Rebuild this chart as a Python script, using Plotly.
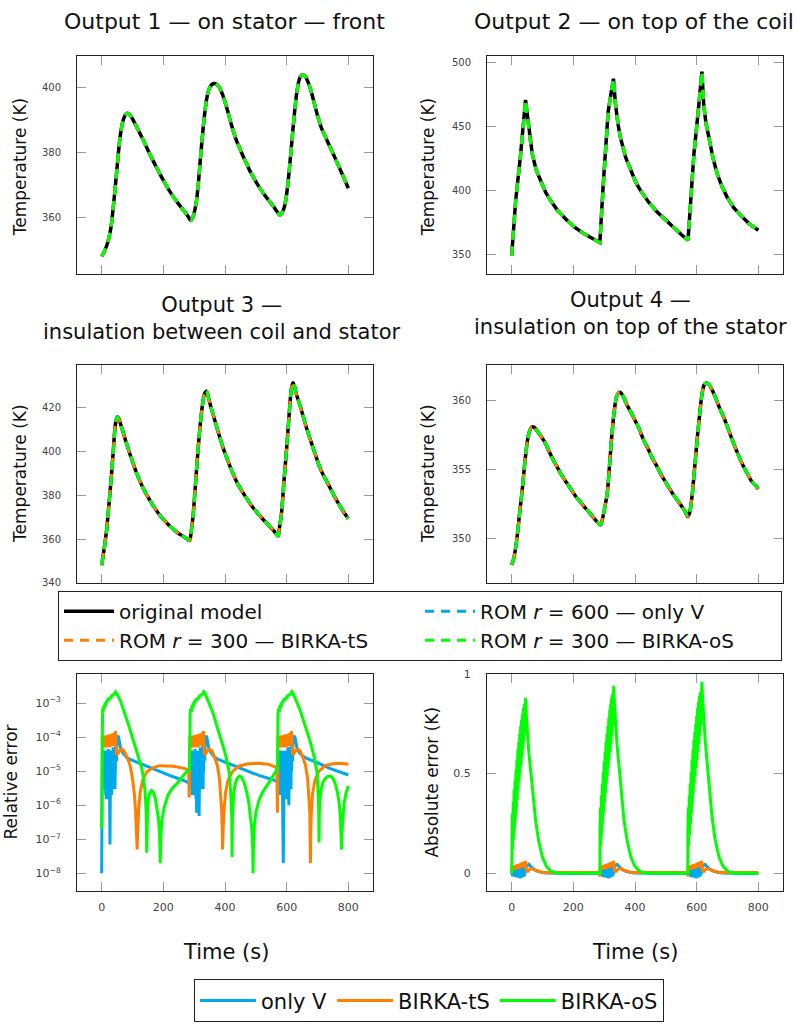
import plotly.graph_objects as go

W, H = 796, 1025

# ---------------- temperature outputs: (time s, temperature K) ----------------
out1 = [(0,348.2),(10,350.0),(20,352.6),(30,357.0),(40,365.5),(50,375.5),(60,385.0),(70,390.0),
        (80,392.0),(90,391.8),(100,390.4),(115,387.6),(130,384.8),(145,381.8),(160,378.8),(175,376.0),
        (190,373.3),(205,370.7),(220,368.3),(235,366.1),(250,364.2),(265,362.4),(280,360.5),(289,359.2),
        (296,360.3),(302,362.3),(308,365.6),(314,371.0),(320,377.8),(326,384.3),(333,391.0),(340,396.2),
        (348,399.5),(358,401.0),(368,401.2),(378,400.5),(390,398.3),(405,394.0),(420,388.8),(435,384.3),
        (450,380.8),(465,377.6),(480,374.6),(495,372.0),(510,369.6),(525,367.5),(540,365.6),(555,363.8),
        (570,361.8),(578,360.8),(585,361.6),(592,363.2),(598,366.0),(604,370.5),(610,376.2),(616,382.5),
        (622,388.8),(628,394.6),(634,399.2),(641,402.5),(650,403.9),(660,403.4),(670,401.5),(680,398.6),
        (690,395.0),(700,391.4),(712,387.8),(725,385.0),(740,381.9),(755,378.8),(770,375.6),(785,372.4),
        (800,369.1)]

out2 = [(0,349.5),(13,392.4),(29,428.5),(45,471.0),(51,459.0),(58,443.0),(67,428.5),(80,416.0),
        (94,407.9),(110,399.0),(126,392.4),(150,384.5),(180,377.0),(205,371.5),(234,366.7),(260,362.8),
        (286,359.6),(297,405.3),(313,461.9),(330,487.5),(337,467.0),(345,452.0),(353,441.4),(370,426.0),
        (386,415.6),(402,407.0),(418,400.2),(445,391.0),(472,383.5),(500,377.0),(526,371.4),(550,366.0),
        (572,361.5),(580,389.9),(591,428.5),(607,467.0),(617,493.0),(623,467.0),(630,453.0),(640,441.4),
        (653,425.5),(667,413.0),(683,403.0),(699,395.0),(720,387.0),(743,380.9),(770,374.5),(800,369.3)]

out3 = [(0,348.0),(8,355.5),(16,364.0),(24,376.5),(32,389.6),(38,401.0),(43,410.5),(47,414.5),
        (51,416.0),(56,415.0),(63,411.8),(70,408.6),(80,404.0),(90,399.6),(103,394.2),(115,389.6),
        (130,384.6),(145,380.4),(157,377.6),(170,374.6),(185,371.6),(200,369.0),(215,366.8),(230,364.8),
        (245,363.0),(260,361.6),(275,360.2),(285,359.3),(291,364.0),(297,371.5),(305,386.5),(313,401.7),
        (320,412.8),(327,421.5),(333,426.2),(340,427.6),(347,424.4),(355,420.0),(362,416.8),(372,411.8),
        (383,406.6),(394,401.7),(405,397.4),(416,393.4),(427,389.6),(440,385.6),(455,381.9),(470,378.6),
        (485,375.5),(500,372.8),(515,370.3),(530,368.0),(545,365.8),(558,363.8),(572,361.3),(577,365.5),
        (583,371.5),(591,386.0),(600,401.7),(607,415.0),(614,427.3),(618,430.6),(621,431.5),(626,429.6),
        (632,426.0),(643,421.3),(655,415.4),(665,410.6),(675,406.2),(686,401.6),(697,397.0),(708,392.6),
        (720,389.0),(735,385.0),(751,380.6),(765,377.0),(780,373.4),(800,369.3)]

out4 = [(0,348.1),(6,348.5),(12,349.2),(18,350.2),(26,351.9),(35,353.7),(43,355.6),(51,357.1),
        (58,357.8),(65,358.1),(72,358.1),(80,357.9),(90,357.6),(105,357.1),(120,356.4),(135,355.7),
        (150,355.1),(165,354.5),(180,354.0),(195,353.5),(210,353.0),(225,352.6),(240,352.2),(256,351.8),
        (270,351.4),(282,351.1),(288,351.0),(292,351.2),(298,351.8),(304,352.5),(310,353.3),(318,355.5),
        (326,357.8),(333,359.3),(340,360.3),(347,360.6),(354,360.6),(362,360.3),(372,359.8),(386,359.2),
        (400,358.6),(415,357.9),(429,357.1),(443,356.5),(455,355.9),(470,355.3),(483,354.7),(497,354.2),
        (510,353.7),(524,353.2),(537,352.8),(550,352.4),(562,352.0),(571,351.6),(576,351.8),(580,352.2),
        (586,353.3),(594,355.3),(602,357.3),(610,359.1),(618,360.6),(625,361.2),(632,361.3),(640,361.2),
        (650,360.8),(660,360.3),(667,359.9),(678,359.3),(690,358.7),(700,358.1),(710,357.5),(720,356.9),
        (731,356.3),(742,355.7),(753,355.2),(765,354.7),(777,354.2),(789,353.9),(800,353.6)]

# ---------------- relative error: (time s, value) ----------------
rel_onlyV = [(0,1.0e-8),(1,2.0e-7),(2,4.0e-5),(3,1.0e-5),(4,3.5e-5),(5,4.0e-6),(6,3.0e-5),(7,8.0e-6),
    (8,4.0e-5),(9,3.0e-6),(10,3.0e-5),(11,6.0e-6),(12,4.0e-5),(13,2.0e-6),(14,3.5e-5),(15,5.0e-6),
    (16,1.5e-6),(17,4.0e-5),(18,4.0e-6),(19,3.0e-5),(20,3.0e-6),(21,4.5e-5),(22,5.0e-6),(23,3.0e-5),
    (24,2.0e-6),(25,4.0e-5),(26,8.0e-7),(27,7.0e-8),(28,3.0e-6),(29,4.0e-5),(30,3.0e-6),(31,3.5e-5),
    (32,2.0e-6),(33,4.0e-5),(34,6.0e-6),(35,4.0e-5),(36,3.0e-6),(37,5.0e-5),(38,8.0e-6),(39,4.0e-5),
    (40,3.0e-6),(41,5.0e-5),(42,5.0e-6),(43,3.0e-6),(44,6.0e-5),(45,1.0e-5),(46,7.0e-5),(48,2.0e-5),
    (50,9.0e-5),(54,1.1e-4),(58,6.0e-5),(62,4.5e-5),(70,3.3e-5),(80,2.6e-5),(92,2.2e-5),(102,2.0e-5),
    (130,1.6e-5),(160,1.25e-5),(190,9.5e-6),(220,7.5e-6),(250,6.0e-6),(283,4.6e-6),
    (285,4.5e-6),(287,3.0e-5),(288,5.0e-6),(289,3.5e-5),(290,3.0e-6),(291,4.0e-5),(292,8.0e-6),
    (293,3.0e-5),(294,2.0e-6),(295,4.0e-5),(296,6.0e-6),(297,3.5e-5),(298,3.0e-6),(299,4.0e-5),
    (300,5.0e-6),(301,3.0e-5),(302,2.0e-6),(303,4.5e-5),(304,4.0e-6),(305,3.0e-5),(306,1.5e-6),
    (307,4.0e-5),(308,6.0e-7),(309,3.0e-6),(310,4.0e-5),(311,3.0e-6),(312,3.5e-5),(313,1.5e-6),
    (314,4.0e-5),(315,8.0e-7),(316,4.8e-7),(317,4.0e-6),(318,4.0e-5),(319,3.0e-6),(320,5.0e-5),
    (321,6.0e-6),(322,4.0e-5),(323,3.0e-6),(324,5.0e-5),(325,8.0e-6),(326,4.0e-5),(327,4.0e-6),
    (328,5.5e-5),(329,3.0e-6),(330,6.0e-5),(331,1.0e-5),(332,7.0e-5),(334,2.0e-5),(336,9.0e-5),
    (340,1.1e-4),(344,6.0e-5),(348,4.5e-5),(356,3.3e-5),(366,2.6e-5),(378,2.2e-5),(390,2.0e-5),
    (420,1.5e-5),(450,1.2e-5),(480,9.5e-6),(510,7.5e-6),(540,6.2e-6),(568,5.0e-6),
    (571,5.0e-6),(573,3.0e-5),(574,5.0e-6),(575,3.5e-5),(576,3.0e-6),(577,4.0e-5),(578,8.0e-6),
    (579,3.0e-5),(580,2.0e-6),(581,4.0e-5),(582,6.0e-6),(583,3.5e-5),(584,3.0e-6),(585,4.0e-5),
    (586,5.0e-6),(587,1.0e-6),(588,1.0e-7),(589,2.0e-8),(590,1.0e-7),(591,3.0e-6),(592,4.0e-5),
    (593,4.0e-6),(594,3.0e-5),(595,2.0e-6),(596,4.0e-5),(597,3.0e-6),(598,3.5e-5),(599,1.5e-6),
    (600,4.0e-5),(601,5.0e-6),(602,4.0e-5),(603,3.0e-6),(604,5.0e-5),(605,6.0e-6),(606,4.0e-5),
    (607,1.0e-6),(608,3.0e-6),(609,5.0e-5),(610,8.0e-6),(611,4.0e-5),(612,4.0e-6),(613,5.5e-5),
    (614,3.0e-6),(615,6.0e-5),(616,1.0e-5),(617,7.0e-5),(619,2.0e-5),(621,9.0e-5),(626,1.1e-4),
    (630,6.0e-5),(634,4.5e-5),(642,3.4e-5),(652,2.8e-5),(664,2.4e-5),(680,2.1e-5),(710,1.6e-5),
    (740,1.2e-5),(770,9.5e-6),(800,7.7e-6)]

rel_tS = [(1,1.0e-4),(3,5.0e-5),(5,1.1e-4),(7,5.5e-5),(9,1.05e-4),(11,5.0e-5),(13,1.1e-4),(15,6.0e-5),
    (17,1.15e-4),(19,5.0e-5),(21,1.15e-4),(23,5.5e-5),(25,1.2e-4),(27,5.0e-5),(29,1.2e-4),(31,6.0e-5),
    (33,1.25e-4),(35,5.5e-5),(37,1.3e-4),(39,6.0e-5),(41,1.35e-4),(43,6.5e-5),(45,1.5e-4),
    (48,3.0e-5),(52,3.2e-5),(58,4.0e-5),(65,4.5e-5),(72,4.0e-5),(82,2.6e-5),(92,1.5e-5),(100,6.0e-6),
    (106,2.2e-6),(110,7.0e-7),(113,2.0e-7),(115,5.0e-8),(117,2.0e-7),(120,8.0e-7),(125,2.4e-6),
    (133,5.5e-6),(146,9.5e-6),(165,1.25e-5),(189,1.45e-5),(210,1.45e-5),(232,1.4e-5),(260,1.25e-5),
    (282,1.1e-5),(284,1.7e-6),
    (286,1.0e-4),(288,5.0e-5),(290,1.1e-4),(292,5.5e-5),(294,1.05e-4),(296,5.0e-5),(298,1.1e-4),
    (300,6.0e-5),(302,1.15e-4),(304,5.0e-5),(306,1.15e-4),(308,5.5e-5),(310,1.2e-4),(312,5.0e-5),
    (314,1.2e-4),(316,6.0e-5),(318,1.25e-4),(320,5.5e-5),(322,1.3e-4),(324,6.0e-5),(326,1.35e-4),
    (328,6.5e-5),(330,1.5e-4),
    (333,3.0e-5),(337,3.2e-5),(343,4.0e-5),(350,4.5e-5),(357,4.0e-5),(366,2.6e-5),(375,1.5e-5),
    (382,6.0e-6),(386,2.2e-6),(389,7.0e-7),(391,2.0e-7),(392,5.0e-8),(394,2.0e-7),(397,8.0e-7),
    (402,2.4e-6),(410,5.5e-6),(425,1.0e-5),(445,1.4e-5),(475,1.65e-5),(510,1.7e-5),(540,1.6e-5),
    (562,1.35e-5),(568,1.2e-5),(570,6.0e-7),
    (572,1.0e-4),(574,5.0e-5),(576,1.1e-4),(578,5.5e-5),(580,1.05e-4),(582,5.0e-5),(584,1.1e-4),
    (586,6.0e-5),(588,1.15e-4),(590,5.0e-5),(592,1.15e-4),(594,5.5e-5),(596,1.2e-4),(598,5.0e-5),
    (600,1.2e-4),(602,6.0e-5),(604,1.25e-4),(606,5.5e-5),(608,1.3e-4),(610,6.0e-5),(612,1.35e-4),
    (614,6.5e-5),(616,1.5e-4),
    (619,3.0e-5),(623,3.2e-5),(629,4.0e-5),(636,4.5e-5),(643,4.0e-5),(652,2.6e-5),(661,1.5e-5),
    (668,6.0e-6),(672,2.2e-6),(675,6.0e-7),(676,1.5e-7),(677,2.0e-8),(678,1.5e-7),(680,6.0e-7),
    (684,2.2e-6),(692,5.5e-6),(705,1.0e-5),(725,1.45e-5),(750,1.65e-5),(775,1.7e-5),(800,1.6e-5)]

rel_oS = [(0,2.0e-7),(1,5.0e-4),(3,7.0e-4),(5,5.5e-4),(7,8.5e-4),(9,7.0e-4),(11,1.0e-3),(13,8.5e-4),
    (15,1.15e-3),(17,1.0e-3),(19,1.3e-3),(21,1.15e-3),(23,1.4e-3),(25,1.25e-3),(27,1.5e-3),(29,1.35e-3),
    (31,1.65e-3),(33,1.5e-3),(35,1.8e-3),(37,1.65e-3),(39,1.9e-3),(41,1.75e-3),(43,2.0e-3),(45,2.1e-3),
    (48,1.95e-3),(53,1.6e-3),(60,1.2e-3),(68,7.5e-4),(75,5.0e-4),(83,3.0e-4),(90,1.9e-4),(98,1.1e-4),
    (105,7.0e-5),(113,4.0e-5),(120,2.5e-5),(127,1.5e-5),(132,1.0e-5),(137,5.5e-6),(140,3.0e-6),
    (143,1.2e-6),(145,4.0e-7),(146,4.0e-8),(147,4.0e-7),(149,9.0e-7),(152,1.6e-6),(156,2.3e-6),
    (162,2.7e-6),(168,2.4e-6),(174,1.6e-6),(180,8.0e-7),(185,3.5e-7),(188,1.2e-7),(190,2.0e-8),
    (192,1.2e-7),(195,3.5e-7),(203,8.7e-7),(215,2.0e-6),(230,3.2e-6),(243,4.2e-6),(265,7.5e-6),
    (285,1.2e-5),
    (287,5.0e-4),(289,7.0e-4),(291,5.5e-4),(293,8.5e-4),(295,7.0e-4),(297,1.0e-3),(299,8.5e-4),
    (301,1.15e-3),(303,1.0e-3),(305,1.3e-3),(307,1.15e-3),(309,1.4e-3),(311,1.25e-3),(313,1.5e-3),
    (315,1.35e-3),(317,1.65e-3),(319,1.5e-3),(321,1.8e-3),(323,1.65e-3),(325,1.9e-3),(327,1.75e-3),
    (329,2.0e-3),(331,2.15e-3),(334,2.0e-3),(339,1.6e-3),(346,1.2e-3),(354,7.5e-4),(361,5.0e-4),
    (369,3.0e-4),(376,1.9e-4),(384,1.1e-4),(391,7.0e-5),(398,4.0e-5),(404,2.5e-5),(409,1.5e-5),
    (413,1.0e-5),(416,5.5e-6),(418,3.0e-6),(420,1.2e-6),(422,4.0e-7),(423,3.0e-8),(424,4.0e-7),
    (426,1.0e-6),(429,2.5e-6),(434,4.5e-6),(440,6.3e-6),(447,7.2e-6),(454,6.6e-6),(462,4.6e-6),
    (470,2.5e-6),(477,1.2e-6),(483,5.0e-7),(487,2.0e-7),(490,5.0e-8),(491,1.0e-8),(492,5.0e-8),
    (495,2.5e-7),(500,6.0e-7),(510,1.4e-6),(524,2.6e-6),(545,5.0e-6),(560,8.5e-6),(570,1.2e-5),
    (572,5.0e-4),(574,7.0e-4),(576,5.5e-4),(578,8.5e-4),(580,7.0e-4),(582,1.0e-3),(584,8.5e-4),
    (586,1.15e-3),(588,1.0e-3),(590,1.3e-3),(592,1.15e-3),(594,1.4e-3),(596,1.25e-3),(598,1.5e-3),
    (600,1.35e-3),(602,1.65e-3),(604,1.5e-3),(606,1.8e-3),(608,1.65e-3),(610,1.9e-3),(612,1.75e-3),
    (614,2.0e-3),(617,2.15e-3),(620,2.0e-3),(625,1.6e-3),(632,1.2e-3),(640,7.5e-4),(647,5.0e-4),
    (655,3.0e-4),(662,1.9e-4),(670,1.1e-4),(677,7.0e-5),(684,4.0e-5),(690,2.5e-5),(694,1.5e-5),
    (698,1.0e-5),(700,5.5e-6),(702,3.0e-6),(703,1.5e-6),(704,6.0e-7),(705,8.0e-8),(706,6.0e-7),
    (708,1.5e-6),(712,3.0e-6),(718,4.8e-6),(726,6.3e-6),(735,7.1e-6),(742,7.2e-6),(750,6.2e-6),
    (758,4.2e-6),(765,2.3e-6),(770,1.2e-6),(774,5.0e-7),(777,1.5e-7),(778,5.0e-8),(779,1.5e-7),
    (782,5.0e-7),(786,1.1e-6),(792,2.2e-6),(800,3.7e-6)]

# ---------------- absolute error (K): (time s, value) ----------------
abs_onlyV = [(0,0.0),(1,0.012),(2,-0.008),(3,0.015),(4,-0.012),(5,0.018),(6,-0.01),(7,0.02),(8,-0.015),
    (9,0.018),(10,-0.01),(11,0.022),(12,-0.018),(13,0.02),(14,-0.012),(15,0.024),(16,-0.02),(17,0.022),
    (18,-0.015),(19,0.025),(20,-0.02),(21,0.024),(22,-0.014),(23,0.026),(24,-0.022),(25,0.025),
    (26,-0.016),(27,0.027),(28,-0.025),(29,0.026),(30,-0.018),(31,0.028),(32,-0.02),(33,0.027),
    (34,-0.015),(35,0.03),(36,-0.02),(37,0.029),(38,-0.012),(39,0.031),(40,-0.015),(41,0.03),
    (42,-0.01),(43,0.032),(44,-0.005),(45,0.033),(48,0.035),(52,0.042),(56,0.045),(60,0.038),
    (66,0.028),(74,0.018),(84,0.01),(96,0.005),(110,0.002),(200,0.0),(285,0.0),
    (286,0.0),(287,0.012),(288,-0.008),(289,0.015),(290,-0.012),(291,0.018),(292,-0.01),(293,0.02),
    (294,-0.015),(295,0.018),(296,-0.01),(297,0.022),(298,-0.018),(299,0.02),(300,-0.012),(301,0.024),
    (302,-0.02),(303,0.022),(304,-0.015),(305,0.025),(306,-0.02),(307,0.024),(308,-0.014),(309,0.026),
    (310,-0.022),(311,0.025),(312,-0.016),(313,0.027),(314,-0.025),(315,0.026),(316,-0.018),
    (317,0.028),(318,-0.02),(319,0.027),(320,-0.015),(321,0.03),(322,-0.02),(323,0.029),(324,-0.012),
    (325,0.031),(326,-0.015),(327,0.03),(328,-0.01),(329,0.032),(330,-0.005),(331,0.033),(334,0.035),
    (338,0.042),(342,0.045),(346,0.038),(352,0.028),(360,0.018),(370,0.01),(382,0.005),(396,0.002),
    (480,0.0),(570,0.0),
    (571,0.0),(572,0.012),(573,-0.008),(574,0.015),(575,-0.012),(576,0.018),(577,-0.01),(578,0.02),
    (579,-0.015),(580,0.018),(581,-0.01),(582,0.022),(583,-0.018),(584,0.02),(585,-0.012),(586,0.024),
    (587,-0.02),(588,0.022),(589,-0.015),(590,0.025),(591,-0.02),(592,0.024),(593,-0.014),(594,0.026),
    (595,-0.022),(596,0.025),(597,-0.016),(598,0.027),(599,-0.025),(600,0.026),(601,-0.018),
    (602,0.028),(603,-0.02),(604,0.027),(605,-0.015),(606,0.03),(607,-0.02),(608,0.029),(609,-0.012),
    (610,0.031),(611,-0.015),(612,0.03),(613,-0.01),(614,0.032),(615,-0.005),(616,0.033),(619,0.035),
    (623,0.042),(627,0.045),(631,0.038),(637,0.028),(645,0.018),(655,0.01),(667,0.005),(681,0.002),
    (750,0.0),(800,0.0)]

abs_tS = [(0,0.0),(1,0.03),(2,0.015),(4,0.035),(5,0.018),(7,0.038),(8,0.02),(10,0.04),(11,0.022),
    (13,0.042),(14,0.02),(16,0.043),(17,0.022),(19,0.045),(20,0.024),(22,0.046),(23,0.025),(25,0.048),
    (26,0.026),(28,0.05),(29,0.028),(31,0.052),(32,0.03),(34,0.054),(35,0.03),(37,0.056),(38,0.032),
    (40,0.058),(41,0.034),(43,0.06),(44,0.036),(45,0.063),(48,0.012),(52,0.01),(58,0.02),(64,0.024),
    (72,0.02),(82,0.013),(95,0.007),(110,0.005),(200,0.005),(284,0.005),
    (286,-0.015),(287,0.03),(288,0.015),(290,0.035),(291,0.018),(293,0.038),(294,0.02),(296,0.04),
    (297,0.022),(299,0.042),(300,0.02),(302,0.043),(303,0.022),(305,0.045),(306,0.024),(308,0.046),
    (309,0.025),(311,0.048),(312,0.026),(314,0.05),(315,0.028),(317,0.052),(318,0.03),(320,0.054),
    (321,0.03),(323,0.056),(324,0.032),(326,0.058),(327,0.034),(329,0.06),(330,0.036),(331,0.063),
    (334,0.012),(338,0.01),(344,0.02),(350,0.024),(358,0.02),(368,0.013),(381,0.007),(396,0.005),
    (480,0.005),(570,0.005),
    (571,-0.015),(572,0.03),(573,0.015),(575,0.035),(576,0.018),(578,0.038),(579,0.02),(581,0.04),
    (582,0.022),(584,0.042),(585,0.02),(587,0.043),(588,0.022),(590,0.045),(591,0.024),(593,0.046),
    (594,0.025),(596,0.048),(597,0.026),(599,0.05),(600,0.028),(602,0.052),(603,0.03),(605,0.054),
    (606,0.03),(608,0.056),(609,0.032),(611,0.058),(612,0.034),(614,0.06),(615,0.036),(616,0.063),
    (619,0.012),(623,0.01),(629,0.02),(635,0.024),(643,0.02),(653,0.013),(666,0.007),(681,0.005),
    (750,0.005),(800,0.005)]

abs_oS = [(0,0.0),(0.5,0.17),(2,0.30),(3,0.12),(5,0.36),(6,0.17),(8,0.42),(9,0.22),(11,0.47),(12,0.27),
    (14,0.52),(15,0.32),(17,0.57),(18,0.37),(20,0.62),(21,0.42),(23,0.66),(24,0.46),(26,0.70),(27,0.50),
    (29,0.74),(30,0.54),(32,0.77),(33,0.58),(35,0.80),(36,0.62),(38,0.83),(39,0.66),(41,0.85),(42,0.70),
    (43,0.87),(44,0.75),(45,0.88),(47,0.80),(50,0.72),(56,0.60),(64,0.48),(70,0.38),(78,0.26),(88,0.16),
    (100,0.08),(113,0.035),(127,0.012),(145,0.002),(200,0.001),(286,0.001),
    (286.5,0.20),(288,0.33),(289,0.14),(291,0.39),(292,0.19),(294,0.45),(295,0.25),(297,0.51),
    (298,0.30),(300,0.56),(301,0.35),(303,0.61),(304,0.40),(306,0.66),(307,0.45),(309,0.70),(310,0.49),
    (312,0.74),(313,0.53),(315,0.78),(316,0.57),(318,0.82),(319,0.61),(321,0.85),(322,0.65),(324,0.88),
    (325,0.69),(327,0.90),(328,0.74),(329,0.92),(330,0.79),(331,0.94),(333,0.86),(336,0.78),(342,0.64),
    (350,0.51),(356,0.40),(364,0.27),(374,0.17),(386,0.085),(399,0.037),(413,0.013),(431,0.002),
    (500,0.001),(571,0.001),
    (571.5,0.20),(573,0.33),(574,0.14),(576,0.39),(577,0.19),(579,0.45),(580,0.25),(582,0.51),
    (583,0.30),(585,0.57),(586,0.35),(588,0.62),(589,0.40),(591,0.67),(592,0.45),(594,0.71),(595,0.49),
    (597,0.75),(598,0.53),(600,0.79),(601,0.57),(603,0.83),(604,0.61),(606,0.86),(607,0.65),(609,0.89),
    (610,0.69),(612,0.91),(613,0.74),(615,0.94),(616,0.80),(617,0.96),(619,0.88),(622,0.80),(628,0.66),
    (636,0.52),(642,0.41),(650,0.28),(660,0.17),(672,0.085),(685,0.037),(699,0.013),(717,0.002),
    (800,0.001)]

time_ticks = [0, 200, 400, 600, 800]
rel_ticks = [1e-8, 1e-7, 1e-6, 1e-5, 1e-4, 1e-3]
rel_ticktext = ["10<sup>−8</sup>", "10<sup>−7</sup>", "10<sup>−6</sup>", "10<sup>−5</sup>",
                "10<sup>−4</sup>", "10<sup>−3</sup>"]

C_BLACK = "#000000"
C_BLUE = "#00a8ec"
C_ORANGE = "#ff7f00"
C_GREEN = "#00ff00"

FONT = "DejaVu Sans"
TICKFONT = dict(family=FONT, size=10, color="#444444")
LOGTICKFONT = dict(family=FONT, size=11, color="#444444")

def unzip(pairs):
    return [p[0] for p in pairs], [p[1] for p in pairs]

fig = go.Figure()

temp_sets = [(out1, "x", "y", "spline"), (out2, "x2", "y2", "linear"),
             (out3, "x3", "y3", "spline"), (out4, "x4", "y4", "spline")]
for k, (data, xa, ya, shape) in enumerate(temp_sets):
    t, v = unzip(data)
    first = (k == 0)
    orange_dash = "9px,7px" if k < 2 else "4px,4px"
    fig.add_trace(go.Scatter(x=t, y=v, xaxis=xa, yaxis=ya, mode="lines", name="original model",
                             line=dict(color=C_BLACK, width=3.5, shape=shape, smoothing=0.8),
                             showlegend=first, legend="legend"))
    fig.add_trace(go.Scatter(x=t, y=v, xaxis=xa, yaxis=ya, mode="lines",
                             name="ROM <i>r</i> = 600 — only V",
                             line=dict(color=C_BLUE, width=3, dash="9px,7px", shape=shape, smoothing=0.8),
                             showlegend=first, legend="legend"))
    fig.add_trace(go.Scatter(x=t, y=v, xaxis=xa, yaxis=ya, mode="lines",
                             name="ROM <i>r</i> = 300 — BIRKA-tS",
                             line=dict(color=C_ORANGE, width=3, dash=orange_dash, shape=shape, smoothing=0.8),
                             showlegend=first, legend="legend"))
    fig.add_trace(go.Scatter(x=t, y=v, xaxis=xa, yaxis=ya, mode="lines",
                             name="ROM <i>r</i> = 300 — BIRKA-oS",
                             line=dict(color=C_GREEN, width=3, dash="9px,7px", shape=shape, smoothing=0.8),
                             showlegend=first, legend="legend"))

err_sets = [((rel_onlyV, rel_tS, rel_oS), "x5", "y5", True),
            ((abs_onlyV, abs_tS, abs_oS), "x6", "y6", False)]
names = ["only V", "BIRKA-tS", "BIRKA-oS"]
cols = [C_BLUE, C_ORANGE, C_GREEN]
for series, xa, ya, first in err_sets:
    for s, nm, c in zip(series, names, cols):
        t, v = unzip(s)
        fig.add_trace(go.Scatter(x=t, y=v, xaxis=xa, yaxis=ya, mode="lines", name=nm,
                                 line=dict(color=c, width=3), showlegend=first, legend="legend2"))

# ---------------- layout geometry (pixels) ----------------
def fx(px):
    return px / W

def fy(py):
    return 1 - py / H

cols_px = [(77, 373), (487, 783)]
rows_px = [(51, 271), (363, 583), (675, 895)]

def xaxis_def(c, r, labels):
    return dict(domain=[fx(cols_px[c][0]), fx(cols_px[c][1])], range=[-80, 880],
                tickvals=time_ticks, showticklabels=labels, ticks="inside", ticklen=9,
                tickcolor="#9a9a9a", tickwidth=1, showline=True, linecolor="#222222", linewidth=1,
                mirror="ticks", showgrid=False, zeroline=False, tickfont=LOGTICKFONT,
                ticklabelstandoff=5, fixedrange=True)

def yaxis_def(c, r, anchor, **kw):
    d = dict(domain=[fy(rows_px[r][1]), fy(rows_px[r][0])], anchor=anchor, ticks="inside", ticklen=9,
             tickcolor="#9a9a9a", tickwidth=1, showline=True, linecolor="#222222", linewidth=1,
             mirror="ticks", showgrid=False, zeroline=False, tickfont=TICKFONT,
             ticklabelstandoff=13, fixedrange=True)
    d.update(kw)
    return d

layout = dict(width=W, height=H, margin=dict(l=0, r=0, t=0, b=0), plot_bgcolor="white",
              paper_bgcolor="white", font=dict(family=FONT, color="#111111"))
layout["xaxis"] = dict(xaxis_def(0, 0, False), anchor="y")
layout["xaxis2"] = dict(xaxis_def(1, 0, False), anchor="y2")
layout["xaxis3"] = dict(xaxis_def(0, 1, False), anchor="y3")
layout["xaxis4"] = dict(xaxis_def(1, 1, False), anchor="y4")
layout["xaxis5"] = dict(xaxis_def(0, 2, True), anchor="y5")
layout["xaxis6"] = dict(xaxis_def(1, 2, True), anchor="y6")
layout["yaxis"] = yaxis_def(0, 0, "x", range=[342.8, 409.5], tickvals=[360, 380, 400])
layout["yaxis2"] = yaxis_def(1, 0, "x2", range=[335.1, 504.9], tickvals=[350, 400, 450, 500])
layout["yaxis3"] = yaxis_def(0, 1, "x3", range=[340, 439.6], tickvals=[340, 360, 380, 400, 420])
layout["yaxis4"] = yaxis_def(1, 1, "x4", range=[346.8, 362.6], tickvals=[350, 355, 360])
layout["yaxis5"] = yaxis_def(0, 2, "x5", type="log", range=[-8.53, -2.14], tickvals=rel_ticks,
                             ticktext=rel_ticktext, tickfont=LOGTICKFONT)
layout["yaxis6"] = yaxis_def(1, 2, "x6", range=[-0.09, 1.0], tickvals=[0, 0.5, 1],
                             ticktext=["0", "0.5", "1"], tickfont=LOGTICKFONT)

layout["legend"] = dict(orientation="h", x=fx(58), xanchor="left", y=fy(591), yanchor="top",
                        bordercolor="#222222", borderwidth=1, bgcolor="white",
                        font=dict(family=FONT, size=20, color="#111111"),
                        entrywidth=296, entrywidthmode="pixels", itemwidth=50, tracegroupgap=0)
layout["legend2"] = dict(orientation="h", x=fx(429), xanchor="center", y=fy(984), yanchor="top",
                         bordercolor="#222222", borderwidth=1, bgcolor="white",
                         font=dict(family=FONT, size=21, color="#111111"), itemwidth=56)

anns = []
def ann(text, x, y, size=22, angle=0):
    anns.append(dict(text=text, x=fx(x), y=fy(y), xref="paper", yref="paper", showarrow=False,
                     xanchor="center", yanchor="middle", textangle=angle,
                     font=dict(family=FONT, size=size, color="#111111")))

ann("Output 1 — on stator — front", 225, 16)
ann("Output 2 — on top of the coil", 634, 16)
ann("Output 3 —<br>insulation between coil and stator", 222, 316, size=21)
ann("Output 4 —<br>insulation on top of the stator", 630, 311, size=21)
ann("Temperature (K)", 20, 163, size=17, angle=-90)
ann("Temperature (K)", 428, 163, size=17, angle=-90)
ann("Temperature (K)", 20, 473, size=17, angle=-90)
ann("Temperature (K)", 428, 473, size=17, angle=-90)
ann("Relative error", 11, 785, size=17, angle=-90)
ann("Absolute error (K)", 432, 785, size=17, angle=-90)
ann("Time (s)", 226, 956, size=21)
ann("Time (s)", 635, 956, size=21)
layout["annotations"] = anns

fig.update_layout(**layout)
fig.write_html("out.html")
